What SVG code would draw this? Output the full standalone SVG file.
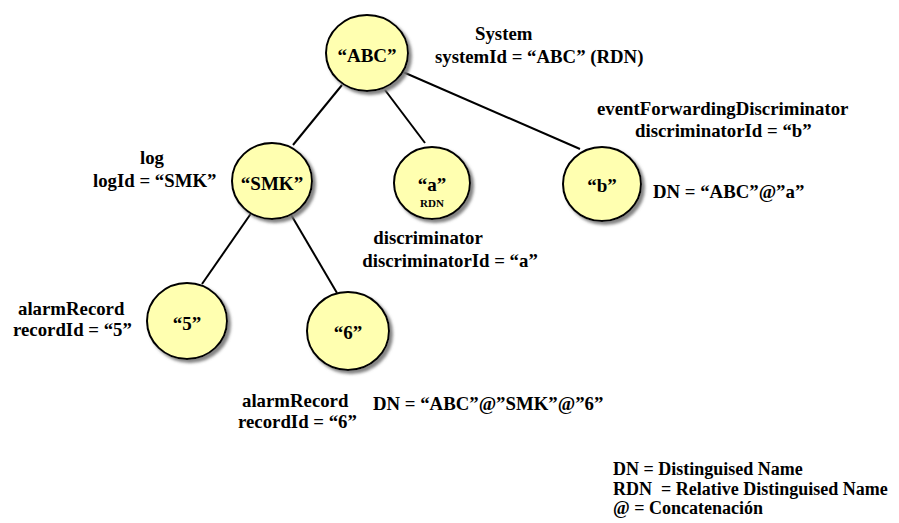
<svg xmlns="http://www.w3.org/2000/svg" width="899" height="523" viewBox="0 0 899 523" font-family="'Liberation Serif', 'DejaVu Serif', serif" font-weight="bold">
  <defs>
    <filter id="shadow" x="-20%" y="-20%" width="150%" height="150%">
      <feDropShadow dx="3" dy="3" stdDeviation="1.5" flood-color="#777" flood-opacity="0.9"/>
    </filter>
    <style>
      .node { fill: #FFFFB0; stroke: #000; stroke-width: 2; filter: url(#shadow); }
      .edge { stroke: #000; stroke-width: 2; fill: none; }
      text { font-family: "Liberation Serif", "DejaVu Serif", serif; font-weight: bold; fill: #000; }
      .nl { font-size: 19px; text-anchor: middle; }
      .lbl { font-size: 18.8px; }
      .leg { font-size: 18px; }
      .mid { text-anchor: middle; }
      .small { font-size: 11px; text-anchor: middle; }
    </style>
  </defs>

  <!-- connectors -->
  <g id="connectors">
    <line class="edge" x1="342" y1="85" x2="293" y2="145"/>
    <line class="edge" x1="385" y1="90" x2="425" y2="143"/>
    <line class="edge" x1="403" y1="72" x2="580" y2="149"/>
    <line class="edge" x1="252" y1="212" x2="202" y2="284"/>
    <line class="edge" x1="290" y1="213" x2="337" y2="293"/>
  </g>

  <!-- nodes -->
  <g id="node-abc">
    <ellipse class="node" cx="367" cy="53" rx="41" ry="38"/>
    <text class="nl" x="367" y="62">“ABC”</text>
  </g>
  <g id="node-smk">
    <ellipse class="node" cx="272" cy="181" rx="40" ry="38"/>
    <text class="nl" x="272" y="190">“SMK”</text>
  </g>
  <g id="node-a">
    <ellipse class="node" cx="432" cy="183" rx="38" ry="36"/>
    <text class="nl" x="432" y="191">“a”</text>
    <text class="small" x="432" y="207">RDN</text>
  </g>
  <g id="node-b">
    <ellipse class="node" cx="602" cy="184" rx="39" ry="37"/>
    <text class="nl" x="602" y="192">“b”</text>
  </g>
  <g id="node-5">
    <ellipse class="node" cx="187" cy="321" rx="40" ry="38"/>
    <text class="nl" x="187" y="330">“5”</text>
  </g>
  <g id="node-6">
    <ellipse class="node" cx="348" cy="331" rx="41" ry="39"/>
    <text class="nl" x="348" y="339">“6”</text>
  </g>

  <!-- labels -->
  <g id="labels">
    <text class="lbl" x="475" y="40">System</text>
    <text class="lbl" x="435" y="63">systemId = “ABC” (RDN)</text>

    <text class="lbl" x="597" y="115">eventForwardingDiscriminator</text>
    <text class="lbl" x="635" y="137">discriminatorId = “b”</text>
    <text class="lbl" x="653" y="198">DN = “ABC”@”a”</text>

    <text class="lbl" x="140" y="164">log</text>
    <text class="lbl" x="93" y="187">logId = “SMK”</text>

    <text class="lbl mid" x="428" y="244">discriminator</text>
    <text class="lbl mid" x="450" y="267">discriminatorId = “a”</text>

    <text class="lbl" x="18" y="315">alarmRecord</text>
    <text class="lbl" x="13" y="336">recordId = “5”</text>

    <text class="lbl" x="242" y="407">alarmRecord</text>
    <text class="lbl" x="238" y="428">recordId = “6”</text>
    <text class="lbl" x="373" y="410">DN = “ABC”@”SMK”@”6”</text>

    <text class="leg" x="613" y="475">DN = Distinguised Name</text>
    <text class="leg" x="613" y="495" xml:space="preserve">RDN  = Relative Distinguised Name</text>
    <text class="leg" x="613" y="514">@ = Concatenación</text>
  </g>
</svg>
